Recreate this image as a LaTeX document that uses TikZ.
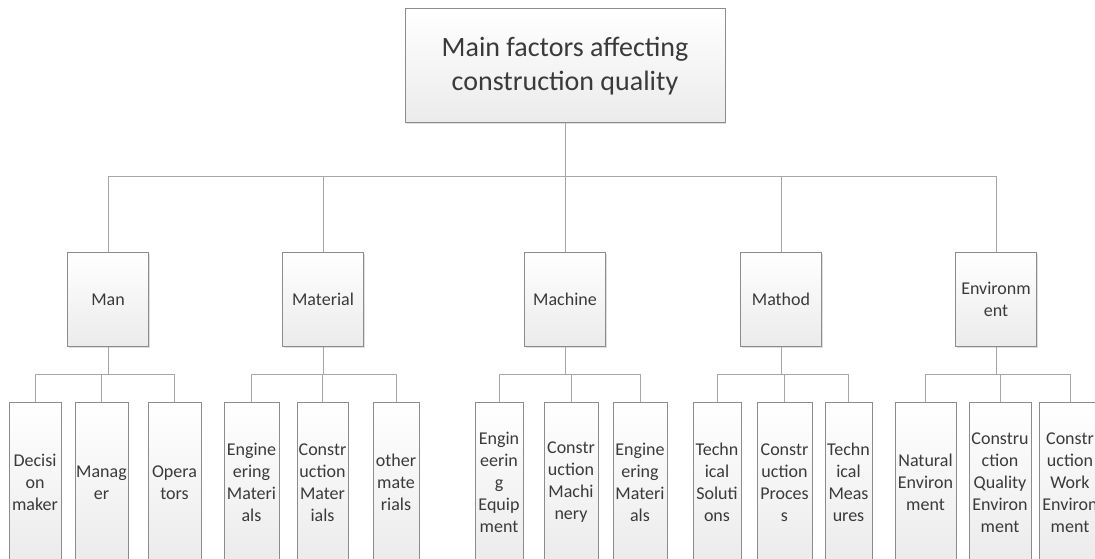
\documentclass[tikz,border=0pt]{standalone}
\usepackage{fontspec}
\setmainfont{Carlito}
\usetikzlibrary{shadows}
\definecolor{boxline}{HTML}{8C8C8C}
\definecolor{linkline}{HTML}{A6A6A6}
\definecolor{boxtext}{HTML}{3A3A3A}
\definecolor{boxbottom}{HTML}{EBEBEB}
\tikzset{
  box/.style={draw=boxline, line width=1pt, top color=white, bottom color=boxbottom,
    text=boxtext, align=center, inner sep=0pt,
    drop shadow={shadow xshift=1.2pt, shadow yshift=-1.2pt, opacity=0.25, fill=gray}},
  rootbox/.style={box, minimum width=320pt, minimum height=114pt,
    font=\fontsize{28}{34}\selectfont},
  factor/.style={box, minimum width=81pt, text width=81pt, minimum height=94pt,
    anchor=north, font=\fontsize{18}{22}\selectfont},
  leaf/.style={box, minimum height=160pt, anchor=north,
    font=\fontsize{18}{22}\selectfont},
  link/.style={draw=linkline, line width=1pt}
}
\begin{document}
\begin{tikzpicture}[x=1pt, y=-1pt]
\useasboundingbox (0,0) rectangle (1095,559);
\clip (0,0) rectangle (1095,559);

% root
\node[rootbox] (root) at (565,66) {Main factors affecting\\construction quality};

% five factors
\node[factor] (man) at (108,252) {Man};
\node[factor] (mat) at (323,252) {Material};
\node[factor] (mac) at (565,252) {Machine};
\node[factor] (met) at (781,252) {Mathod};
\node[factor] (env) at (996,252) {Environm\\ent};

% leaves: Man
\node[leaf, text width=52pt] (m1) at (35,402) {Decisi\\on\\maker};
\node[leaf, text width=53pt] (m2) at (101.5,402) {Manag\\er};
\node[leaf, text width=53pt] (m3) at (174.5,402) {Opera\\tors};
% leaves: Material
\node[leaf, text width=55pt] (a1) at (251.5,402) {Engine\\ering\\Materi\\als};
\node[leaf, text width=51pt] (a2) at (322.5,402) {Constr\\uction\\Mater\\ials};
\node[leaf, text width=46pt] (a3) at (396,402) {other\\mate\\rials};
% leaves: Machine
\node[leaf, text width=48pt] (c1) at (499,402) {Engin\\eerin\\g\\Equip\\ment};
\node[leaf, text width=54pt] (c2) at (571,402) {Constr\\uction\\Machi\\nery};
\node[leaf, text width=54pt] (c3) at (640,402) {Engine\\ering\\Materi\\als};
% leaves: Mathod
\node[leaf, text width=48pt] (t1) at (717,402) {Techn\\ical\\Soluti\\ons};
\node[leaf, text width=55pt] (t2) at (784.5,402) {Constr\\uction\\Proces\\s};
\node[leaf, text width=47pt] (t3) at (848.5,402) {Techn\\ical\\Meas\\ures};
% leaves: Environment
\node[leaf, text width=61pt] (e1) at (925.5,402) {Natural\\Environ\\ment};
\node[leaf, text width=62pt] (e2) at (1000,402) {Constru\\ction\\Quality\\Environ\\ment};
\node[leaf, text width=62pt] (e3) at (1070,402) {Constr\\uction\\Work\\Environ\\ment};

% root to factors
\draw[link] (root.south) -- ++(0,53) coordinate (rbar);
\draw[link] (man.north) -- (man.north |- rbar) -- (env.north |- rbar) -- (env.north);
\foreach \f in {mat,mac,met} \draw[link] (\f.north) -- (\f.north |- rbar);

% factors to leaves
\foreach \p/\l/\c/\r in {man/m1/m2/m3, mat/a1/a2/a3, mac/c1/c2/c3, met/t1/t2/t3, env/e1/e2/e3}{
  \draw[link] (\p.south) -- ++(0,27) coordinate (pbar);
  \draw[link] (\l.north) -- (\l.north |- pbar) -- (\r.north |- pbar) -- (\r.north);
  \draw[link] (\c.north) -- (\c.north |- pbar);
}
\end{tikzpicture}
\end{document}
